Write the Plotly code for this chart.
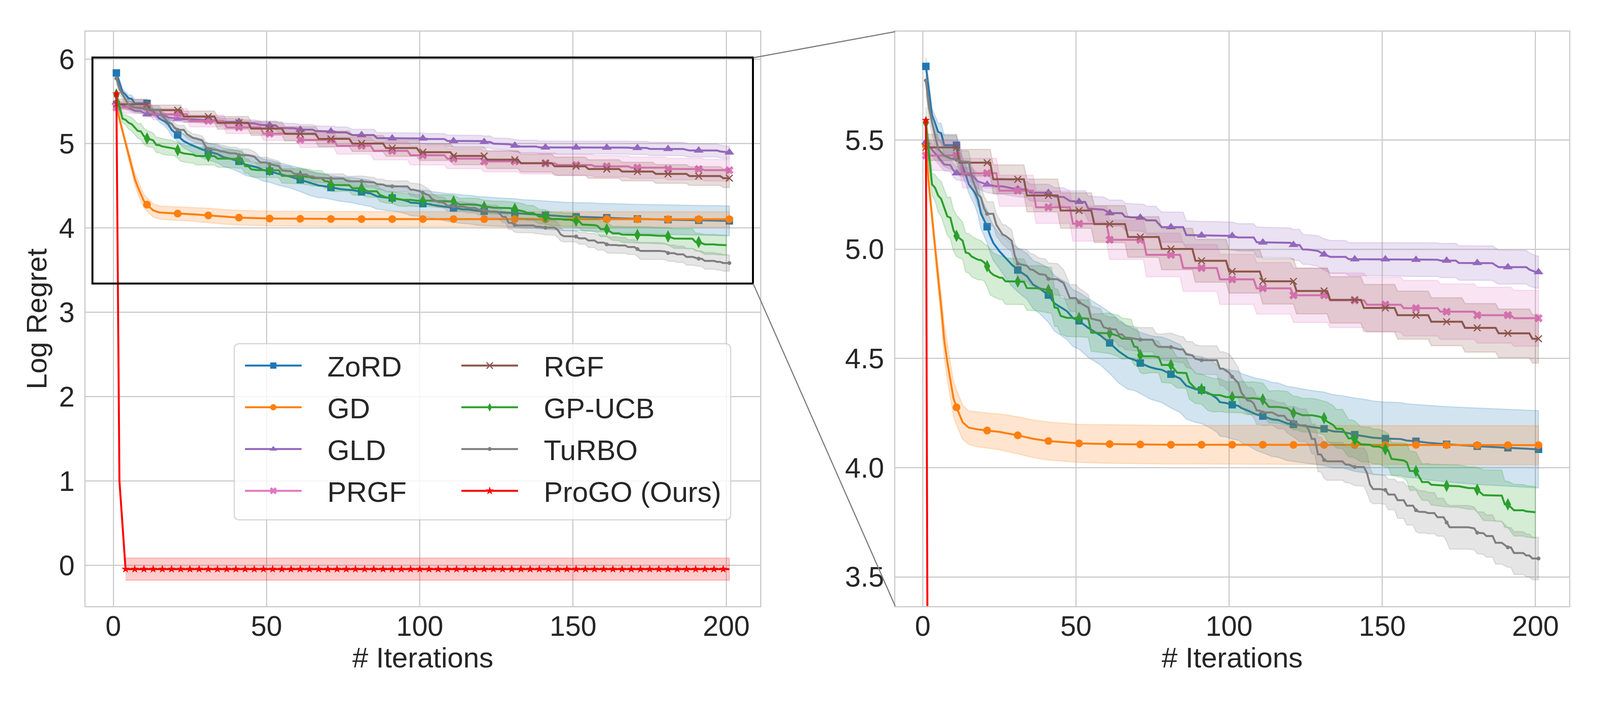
import numpy as np
import plotly.graph_objects as go

# Values. x = iteration, std = half width of the shaded band.
zord_x = [1,3,4,5,6,7,11,12,14,15,17,18,19,21,22,23,25,27,29,31,34,36,38,41,43,47,49,51,54,58,61,64,67,69,71,74,76,78,81,84,86,89,91,94,96,97,99,101,103,104,106,109,111,114,116,119,121,126,131,134,137,141,145,147,151,156,158,161,165,171,181,191,201]
zord_y = [5.837,5.614,5.578,5.537,5.531,5.476,5.476,5.413,5.342,5.297,5.259,5.227,5.163,5.103,5.061,5.029,4.991,4.959,4.93,4.905,4.876,4.838,4.822,4.79,4.752,4.717,4.685,4.672,4.64,4.605,4.571,4.532,4.503,4.494,4.479,4.461,4.453,4.448,4.428,4.408,4.375,4.359,4.355,4.336,4.317,4.30,4.296,4.288,4.283,4.273,4.262,4.243,4.236,4.221,4.218,4.202,4.198,4.187,4.178,4.166,4.164,4.151,4.143,4.137,4.133,4.131,4.124,4.121,4.114,4.107,4.098,4.091,4.084]
zord_std = [.04,.03,.035,.04,.045,.045,.045,.04,.04,.04,.06,.07,.07,.075,.078,.08,.08,.09,.098,.1,.105,.11,.115,.125,.127,.13,.13,.13,.135,.135,.14,.145,.145,.14,.14,.145,.147,.15,.155,.155,.152,.152,.153,.155,.155,.156,.156,.157,.158,.158,.16,.165,.168,.17,.17,.17,.17,.168,.168,.168,.165,.168,.168,.168,.167,.167,.168,.168,.17,.172,.175,.176,.177]

gd_x = [1,2,3,4,5,6,7,8,9,10,11,13,15,18,21,25,31,36,41,51,61,71,81,91,101,111,121,131,141,151,161,171,181,191,201]
gd_y = [5.474,5.294,5.15,5.004,4.87,4.736,4.583,4.484,4.398,4.318,4.276,4.208,4.183,4.175,4.17,4.164,4.148,4.132,4.122,4.111,4.108,4.106,4.105,4.105,4.105,4.105,4.104,4.104,4.104,4.104,4.104,4.103,4.103,4.103,4.103]
gd_std = [.03,.03,.035,.04,.05,.06,.075,.08,.08,.08,.08,.078,.077,.08,.08,.082,.085,.086,.087,.087,.088,.088,.088,.088,.089,.089,.089,.089,.089,.089,.089,.089,.089,.089,.089]

gld_x = [1,4,5,7,9,10,11,13,16,18,19,21,24,26,29,31,34,35,41,43,46,48,51,53,54,59,61,65,66,68,71,72,73,76,78,81,85,86,91,96,101,103,108,109,111,113,120,121,123,124,126,129,131,133,138,139,141,150,151,161,168,169,171,174,175,181,186,187,188,191,197,198,200,201]
gld_y = [5.49,5.438,5.42,5.388,5.385,5.36,5.348,5.344,5.34,5.31,5.305,5.296,5.288,5.288,5.279,5.275,5.273,5.259,5.258,5.241,5.239,5.221,5.217,5.216,5.186,5.181,5.165,5.165,5.149,5.146,5.145,5.143,5.132,5.132,5.101,5.101,5.101,5.065,5.063,5.062,5.061,5.054,5.054,5.032,5.031,5.031,5.029,5.02,5.019,4.999,4.998,4.992,4.976,4.965,4.965,4.955,4.954,4.954,4.954,4.952,4.952,4.948,4.948,4.948,4.937,4.937,4.936,4.926,4.918,4.918,4.918,4.907,4.896,4.895]
gld_std = [.03,.03,.03,.03,.03,.03,.03,.03,.033,.035,.035,.037,.036,.036,.035,.035,.037,.038,.04,.041,.042,.047,.05,.052,.057,.058,.06,.06,.062,.062,.062,.063,.065,.065,.069,.069,.069,.065,.064,.064,.063,.063,.063,.069,.069,.069,.068,.07,.072,.068,.068,.07,.072,.075,.075,.076,.076,.076,.076,.077,.077,.078,.078,.079,.079,.079,.079,.079,.078,.078,.077,.076,.074,.074]

# PRGF and RGF are plain stairs: one level per run of iterations
prgf_runs = [12]*16 + [9]
prgf_levels = [5.429,5.348,5.268,5.192,5.117,5.043,4.974,4.914,4.862,4.821,4.789,4.766,4.746,4.73,4.714,4.698,4.684]
prgf_level_std = [.068,.068,.071,.074,.08,.09,.1,.107,.115,.118,.124,.125,.126,.127,.127,.128,.128]

rgf_runs = [11]*18 + [3]
rgf_levels = [5.466,5.396,5.32,5.246,5.177,5.115,5.056,5.001,4.947,4.898,4.853,4.809,4.768,4.731,4.698,4.668,4.64,4.615,4.59]
rgf_level_std = [.06,.061,.066,.075,.081,.085,.093,.095,.098,.099,.104,.105,.106,.108,.11,.11,.111,.111,.111]

gp_x = [1,3,4,5,6,8,9,10,11,13,14,15,16,18,19,20,21,22,23,25,26,27,31,33,34,38,41,42,43,44,45,47,51,54,55,61,64,65,68,69,70,71,72,75,77,78,81,83,86,87,89,91,93,95,97,99,101,104,106,108,111,113,116,119,121,122,124,127,129,131,132,134,135,137,139,140,141,143,146,147,149,151,152,153,157,158,159,161,162,163,165,166,171,175,178,180,181,183,189,190,191,193,196,197,200]
gp_y = [5.58,5.297,5.281,5.246,5.23,5.15,5.144,5.087,5.061,5.039,4.985,4.981,4.966,4.952,4.95,4.94,4.922,4.895,4.883,4.87,4.869,4.853,4.852,4.851,4.822,4.821,4.813,4.812,4.733,4.731,4.695,4.686,4.685,4.682,4.618,4.615,4.602,4.591,4.589,4.554,4.552,4.515,4.51,4.51,4.506,4.47,4.47,4.435,4.433,4.391,4.362,4.359,4.339,4.332,4.332,4.323,4.323,4.323,4.317,4.318,4.312,4.278,4.278,4.272,4.25,4.25,4.24,4.24,4.235,4.227,4.211,4.195,4.178,4.177,4.134,4.134,4.129,4.107,4.105,4.097,4.096,4.084,4.078,4.04,4.033,4.024,3.985,3.984,3.957,3.934,3.934,3.922,3.917,3.915,3.907,3.906,3.899,3.874,3.872,3.832,3.832,3.805,3.805,3.8,3.796]
gp_std = [.07,.05,.06,.076,.08,.086,.096,.095,.095,.085,.09,.09,.093,.092,.09,.085,.095,.105,.1,.1,.1,.106,.105,.105,.102,.104,.105,.105,.086,.086,.083,.086,.086,.086,.085,.093,.094,.094,.09,.084,.084,.08,.08,.075,.072,.08,.083,.07,.07,.077,.068,.068,.077,.077,.075,.07,.07,.072,.075,.075,.075,.073,.075,.077,.077,.077,.077,.077,.077,.077,.089,.088,.088,.09,.085,.085,.085,.08,.08,.08,.08,.08,.077,.075,.08,.086,.09,.087,.085,.083,.085,.093,.097,.097,.097,.097,.102,.116,.117,.106,.106,.118,.118,.118,.118]

turbo_x = [1,2,3,4,5,7,9,11,13,15,16,18,19,20,21,23,24,26,27,29,30,31,34,35,36,38,40,41,44,46,48,50,51,54,55,58,59,61,63,64,65,66,68,71,75,76,77,81,84,85,86,88,89,91,96,97,98,100,101,103,104,106,107,108,109,110,111,114,116,118,119,121,123,125,126,127,128,129,130,131,132,137,138,139,141,144,145,146,147,149,151,152,154,155,157,158,160,161,162,164,165,167,168,170,171,172,178,180,181,183,184,186,187,189,191,192,193,196,197,198,199,201]
turbo_y = [5.772,5.65,5.58,5.52,5.46,5.428,5.416,5.409,5.401,5.4,5.329,5.25,5.237,5.186,5.162,5.162,5.112,5.068,5.061,5.039,4.972,4.934,4.924,4.908,4.905,4.886,4.883,4.864,4.862,4.845,4.776,4.776,4.757,4.733,4.682,4.672,4.643,4.634,4.633,4.61,4.61,4.596,4.593,4.586,4.586,4.562,4.553,4.552,4.541,4.541,4.519,4.514,4.498,4.492,4.492,4.453,4.453,4.435,4.416,4.387,4.343,4.307,4.306,4.294,4.262,4.261,4.253,4.253,4.238,4.237,4.219,4.211,4.194,4.194,4.173,4.131,4.131,4.061,4.06,4.035,4.029,4.029,4.014,4.014,4.003,4.003,3.976,3.922,3.902,3.902,3.898,3.877,3.877,3.851,3.851,3.826,3.826,3.805,3.798,3.797,3.792,3.792,3.773,3.773,3.749,3.727,3.727,3.722,3.702,3.7,3.687,3.687,3.656,3.656,3.635,3.635,3.609,3.609,3.598,3.598,3.584,3.584]
turbo_std = [.06,.06,.05,.05,.05,.05,.05,.05,.05,.05,.05,.055,.055,.055,.055,.055,.05,.045,.05,.05,.055,.07,.073,.073,.073,.073,.073,.073,.072,.06,.062,.062,.065,.06,.058,.055,.055,.055,.055,.055,.055,.055,.055,.055,.055,.055,.058,.064,.06,.059,.06,.062,.065,.065,.066,.076,.078,.085,.087,.07,.068,.06,.062,.064,.064,.062,.06,.057,.06,.06,.06,.07,.075,.075,.07,.067,.07,.079,.08,.083,.087,.087,.083,.083,.085,.088,.09,.077,.068,.066,.066,.07,.07,.083,.084,.089,.089,.098,.097,.096,.095,.094,.087,.087,.086,.1,.1,.098,.096,.097,.097,.097,.098,.098,.091,.091,.098,.098,.098,.098,.097,.097]

progo_x = [1,2,3,4,201]
progo_y = [5.59,1.0,0.48,-0.045,-0.045]
progo_band_x = [4,201]
progo_band_y = [-0.045,-0.045]
progo_band_std = [.131,.131]
progo_star_x = list(range(1,201,3))
progo_star_y = [5.59] + [-0.045]*66

iters = list(range(1,202))
prgf_y = np.repeat(prgf_levels, prgf_runs)
prgf_std = np.repeat(prgf_level_std, prgf_runs)
rgf_y = np.repeat(rgf_levels, rgf_runs)
rgf_std = np.repeat(rgf_level_std, rgf_runs)

x_ticks = [0,50,100,150,200]
left_y_ticks = [0,1,2,3,4,5,6]
right_y_ticks = [3.5,4.0,4.5,5.0,5.5]
right_y_labels = ["3.5","4.0","4.5","5.0","5.5"]

# layout is measured on the 4200x1800 reference and given as fractions, so the figure
# can fill whatever width the window really has (no fixed layout width below)
W, H = 4200, 1800
FONT = "Liberation Sans"
TEXT = "#262626"
GRID = "#cccccc"


def marker_points(x, y, every=10):
    # marks sit on every 10th iteration, starting at the first
    lookup = dict(zip(x, y))
    mx = [i for i in range(1, 202, every) if i in lookup]
    return mx, [lookup[i] for i in mx]


def rgba(rgb, a):
    return "rgba(%d,%d,%d,%s)" % (rgb[0], rgb[1], rgb[2], a)


series = [
    dict(name="ZoRD", x=zord_x, y=zord_y, std=zord_std, rgb=(31,119,180),
         marker=dict(symbol="square", size=19)),
    dict(name="GD", x=gd_x, y=gd_y, std=gd_std, rgb=(255,127,14),
         marker=dict(symbol="circle", size=20)),
    dict(name="GLD", x=gld_x, y=gld_y, std=gld_std, rgb=(148,103,189),
         marker=dict(symbol="triangle-up", size=22)),
    dict(name="PRGF", x=iters, y=prgf_y, std=prgf_std, rgb=(227,119,194),
         marker=dict(symbol="x", size=19)),
    dict(name="RGF", x=iters, y=rgf_y, std=rgf_std, rgb=(140,86,75),
         marker=dict(symbol="x-thin", size=17, line=dict(width=3, color="rgb(140,86,75)"))),
    dict(name="GP-UCB", x=gp_x, y=gp_y, std=gp_std, rgb=(44,160,44),
         marker=dict(symbol="diamond-tall", size=23)),
    dict(name="TuRBO", x=turbo_x, y=turbo_y, std=turbo_std, rgb=(127,127,127),
         marker=dict(symbol="circle", size=10)),
]

fig = go.Figure()

for xa, ya in [("x","y"), ("x2","y2")]:
    for s in series:
        y = np.array(s["y"], dtype=float)
        std = np.array(s["std"], dtype=float)
        x = list(s["x"])
        fig.add_trace(go.Scatter(x=x + x[::-1], y=list(y + std) + list((y - std)[::-1]),
                                 mode="lines", fill="toself", fillcolor=rgba(s["rgb"], 0.2),
                                 line=dict(color=rgba(s["rgb"], 0.2), width=3),
                                 xaxis=xa, yaxis=ya, showlegend=False, hoverinfo="skip"))
        fig.add_trace(go.Scatter(x=x, y=y, mode="lines", line=dict(color=rgba(s["rgb"], 1), width=5),
                                 xaxis=xa, yaxis=ya, showlegend=False, name=s["name"]))
        mx, my = marker_points(x, list(y))
        fig.add_trace(go.Scatter(x=mx, y=my, mode="markers",
                                 marker=dict(color=rgba(s["rgb"], 1), **s["marker"]),
                                 xaxis=xa, yaxis=ya, showlegend=False, name=s["name"]))
    # ProGO has its own band extent and denser stars
    by = np.array(progo_band_y)
    bs = np.array(progo_band_std)
    fig.add_trace(go.Scatter(x=progo_band_x + progo_band_x[::-1], y=list(by + bs) + list((by - bs)[::-1]),
                             mode="lines", fill="toself", fillcolor="rgba(255,0,0,0.2)",
                             line=dict(color="rgba(255,0,0,0.2)", width=3),
                             xaxis=xa, yaxis=ya, showlegend=False, hoverinfo="skip"))
    fig.add_trace(go.Scatter(x=progo_x, y=progo_y, mode="lines", line=dict(color="red", width=5),
                             xaxis=xa, yaxis=ya, showlegend=False, name="ProGO (Ours)"))
    fig.add_trace(go.Scatter(x=progo_star_x, y=progo_star_y, mode="markers",
                             marker=dict(color="red", symbol="star", size=16),
                             xaxis=xa, yaxis=ya, showlegend=False, name="ProGO (Ours)"))

# Legend entries, two columns -> two legends
columns = {"legend": series[:4], "legend2": series[4:]}
for leg, members in columns.items():
    for s in members:
        fig.add_trace(go.Scatter(x=[None], y=[None], mode="lines+markers", name="\u00a0\u00a0\u00a0" + s["name"],
                                 legend=leg, legendgroup=s["name"],
                                 line=dict(color=rgba(s["rgb"], 1), width=5),
                                 marker=dict(color=rgba(s["rgb"], 1), **s["marker"])))
fig.add_trace(go.Scatter(x=[None], y=[None], mode="lines+markers", name="\u00a0\u00a0\u00a0ProGO (Ours)",
                         legend="legend2", legendgroup="ProGO",
                         line=dict(color="red", width=5),
                         marker=dict(color="red", symbol="star", size=16)))

axis_style = dict(showgrid=True, gridcolor=GRID, gridwidth=3, zeroline=False,
                  showline=True, linecolor=GRID, linewidth=3, mirror=True, ticks="",
                  tickfont=dict(family=FONT, size=72, color=TEXT))


def axis_title(text, standoff):
    return dict(text=text, font=dict(family=FONT, size=73, color=TEXT), standoff=standoff)


legend_style = dict(bgcolor="rgba(0,0,0,0)", borderwidth=0, itemwidth=145, xanchor="left", yanchor="top",
                    traceorder="grouped", tracegroupgap=9, itemclick=False, itemdoubleclick=False,
                    font=dict(family=FONT, size=73, color=TEXT))


def px_x(v):
    return v / W


def px_y(v):
    return 1 - v / H


def rounded_box(x0, y0, x1, y1, r):
    a, b, c, d = px_x(x0), px_x(x1), px_y(y0), px_y(y1)
    rx, ry = r / W, r / H
    return (f"M{a+rx},{c} L{b-rx},{c} Q{b},{c} {b},{c-ry} L{b},{d+ry} Q{b},{d} {b-rx},{d} "
            f"L{a+rx},{d} Q{a},{d} {a},{d+ry} L{a},{c-ry} Q{a},{c} {a+rx},{c} Z")


fig.update_layout(
    height=H, margin=dict(l=0, r=0, t=0, b=0), autosize=True,
    paper_bgcolor="white", plot_bgcolor="white",
    xaxis=dict(domain=[225/W, 1995/W], range=[-9, 211], tickvals=x_ticks, ticklabelstandoff=-13,
               title=axis_title("# Iterations", 14), **axis_style),
    yaxis=dict(domain=[1-1552/H, 1-81/H], range=[-0.484, 6.327], tickvals=left_y_ticks, ticklabelstandoff=11,
               title=axis_title("Log Regret", 8), **axis_style),
    xaxis2=dict(domain=[2350/W, 4119/W], range=[-9, 211], tickvals=x_ticks, anchor="y2", ticklabelstandoff=-13,
                title=axis_title("# Iterations", 14), **axis_style),
    yaxis2=dict(domain=[1-1552/H, 1-81/H], range=[3.366, 5.996], tickvals=right_y_ticks, ticklabelstandoff=11,
                ticktext=right_y_labels, anchor="x2", **axis_style),
    legend=dict(x=638/W, y=px_y(882), **legend_style),
    legend2=dict(x=1206/W, y=px_y(882), **legend_style),
    shapes=[
        dict(type="path", path=rounded_box(615, 880, 1918, 1331, 14), xref="paper", yref="paper",
             fillcolor="rgba(255,255,255,0.8)", line=dict(color="rgba(204,204,204,0.8)", width=3), layer="above"),
        dict(type="rect", xref="x", yref="y", x0=-6.8, x1=208.7, y0=3.34, y1=6.02,
             line=dict(color="black", width=5), layer="above"),
        dict(type="line", xref="paper", yref="paper", x0=px_x(1977), y0=px_y(148), x1=px_x(2350), y1=px_y(81),
             line=dict(color="#7f7f7f", width=3), layer="above"),
        dict(type="line", xref="paper", yref="paper", x0=px_x(1977), y0=px_y(726), x1=px_x(2350), y1=px_y(1552),
             line=dict(color="#7f7f7f", width=3), layer="above"),
    ],
)

# drop the page's default body margin, then let the figure refill the window
fit_page = ("document.body.style.margin='0';document.body.style.overflow='hidden';"
            "Plotly.Plots.resize(document.getElementById('{plot_id}'));")
fig.write_html("out.html", config=dict(displayModeBar=False), post_script=fit_page)
